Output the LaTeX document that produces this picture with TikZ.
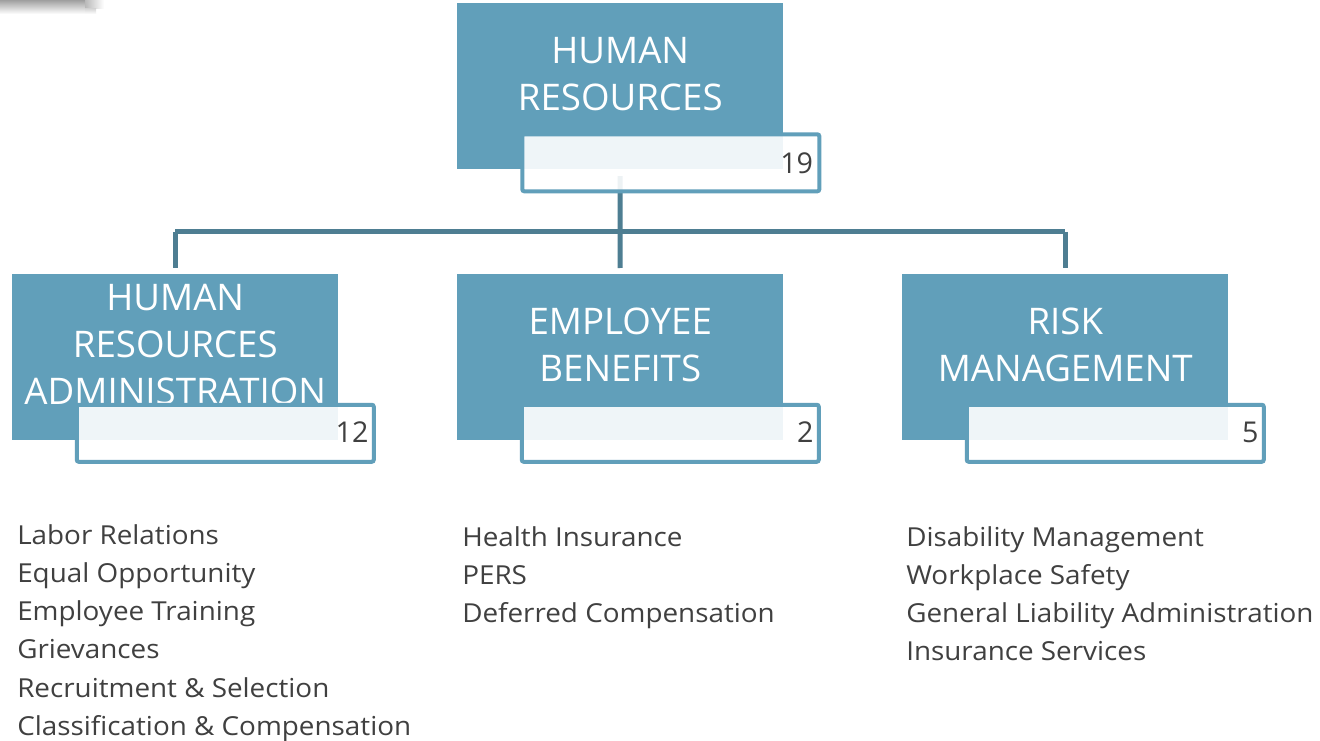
\documentclass[tikz,border=0pt]{standalone}
\usepackage{fontspec}
\setmainfont{Open Sans}
\newfontfamily\listfont[FakeStretch=1.065]{Open Sans}
\definecolor{boxblue}{HTML}{619FBA}
\definecolor{linecol}{HTML}{4E7E92}
\definecolor{txtgrey}{HTML}{404040}
\begin{document}
\begin{tikzpicture}[x=0.75pt,y=-0.75pt,
  mainbox/.style={fill=boxblue, draw=none, inner sep=0pt, anchor=north west,
    minimum width=244.5pt, minimum height=124.5pt},
  titletext/.style={text=white, align=center, inner sep=0pt,
    font=\fontsize{27.5pt}{35.4pt}\selectfont},
  numbox/.style={draw=boxblue, line width=3pt, fill=white, fill opacity=0.9,
    rounded corners=1.5pt, inner sep=0pt, minimum width=222.75pt, minimum height=42.75pt},
  numtext/.style={text=txtgrey, inner sep=0pt, anchor=base east,
    font=\fontsize{21.5pt}{27pt}\selectfont},
  conn/.style={draw=linecol, line width=3.75pt},
  listtext/.style={text=txtgrey, align=left, inner sep=0pt, anchor=north west,
    font=\listfont\fontsize{19.6pt}{28.7pt}\selectfont}]
\useasboundingbox (0,0) rectangle (1320,741);
\fill[white] (0,0) rectangle (1320,741);
% faint shadow at top-left corner
\shade[top color=gray!75, bottom color=white, draw=none] (0,0) rectangle (86,14);
\shade[left color=gray!55, right color=white, draw=none] (85,0) rectangle (104,9);
\shade[top color=gray!30, bottom color=white, draw=none] (85,9) rectangle (96,14);

% main boxes
\node[mainbox] (hr) at (457,3) {};
\node[mainbox] (hra) at (12,274) {};
\node[mainbox] (eb) at (457,274) {};
\node[mainbox] (rm) at (902,274) {};

% titles
\node[titletext] (hrt) at ([yshift=9pt]hr.center) {HUMAN\\RESOURCES};
\node[titletext] (hrat) at ([yshift=9.4pt]hra.center) {HUMAN\\RESOURCES\\ADMINISTRATION};
\node[titletext] (ebt) at ([yshift=9.4pt]eb.center) {EMPLOYEE\\BENEFITS};
\node[titletext] (rmt) at ([yshift=9.4pt]rm.center) {RISK\\MANAGEMENT};

% connectors
\coordinate (bus) at (620,232);
\draw[conn, shorten <=5pt] (hr.south) -- (bus);
\draw[conn] (hra.north |- bus) -- (rm.north |- bus);
\draw[conn, shorten >=4.5pt] (hra.north |- bus) -- (hra.north);
\draw[conn, shorten >=4.5pt] (bus) -- (eb.north);
\draw[conn, shorten >=4.5pt] (rm.north |- bus) -- (rm.north);

% number boxes
\node[numbox] (hrn) at ([xshift=37.9pt,yshift=-57.4pt]hr.center) {};
\node[numbox] (hran) at ([xshift=37.5pt,yshift=-57pt]hra.center) {};
\node[numbox] (ebn) at ([xshift=37.5pt,yshift=-57pt]eb.center) {};
\node[numbox] (rmn) at ([xshift=37.5pt,yshift=-57pt]rm.center) {};

\node[numtext] (hrnum) at ([xshift=-6pt,yshift=-7.9pt]hrn.center -| hrn.east) {19};
\node[numtext] (hranum) at ([xshift=-5.25pt,yshift=-7.1pt]hran.center -| hran.east) {12};
\node[numtext] (ebnum) at ([xshift=-5.25pt,yshift=-7.1pt]ebn.center -| ebn.east) {2};
\node[numtext] (rmnum) at ([xshift=-5.25pt,yshift=-7.1pt]rmn.center -| rmn.east) {5};

% lists
\node[listtext] (hral) at (17,524) {Labor Relations\\Equal Opportunity\\Employee Training\\Grievances\\Recruitment \& Selection\\Classification \& Compensation};
\node[listtext] (ebl) at (462,526) {Health Insurance\\PERS\\Deferred Compensation};
\node[listtext] (rml) at (906,526) {Disability Management\\Workplace Safety\\General Liability Administration\\Insurance Services};
\end{tikzpicture}
\end{document}
